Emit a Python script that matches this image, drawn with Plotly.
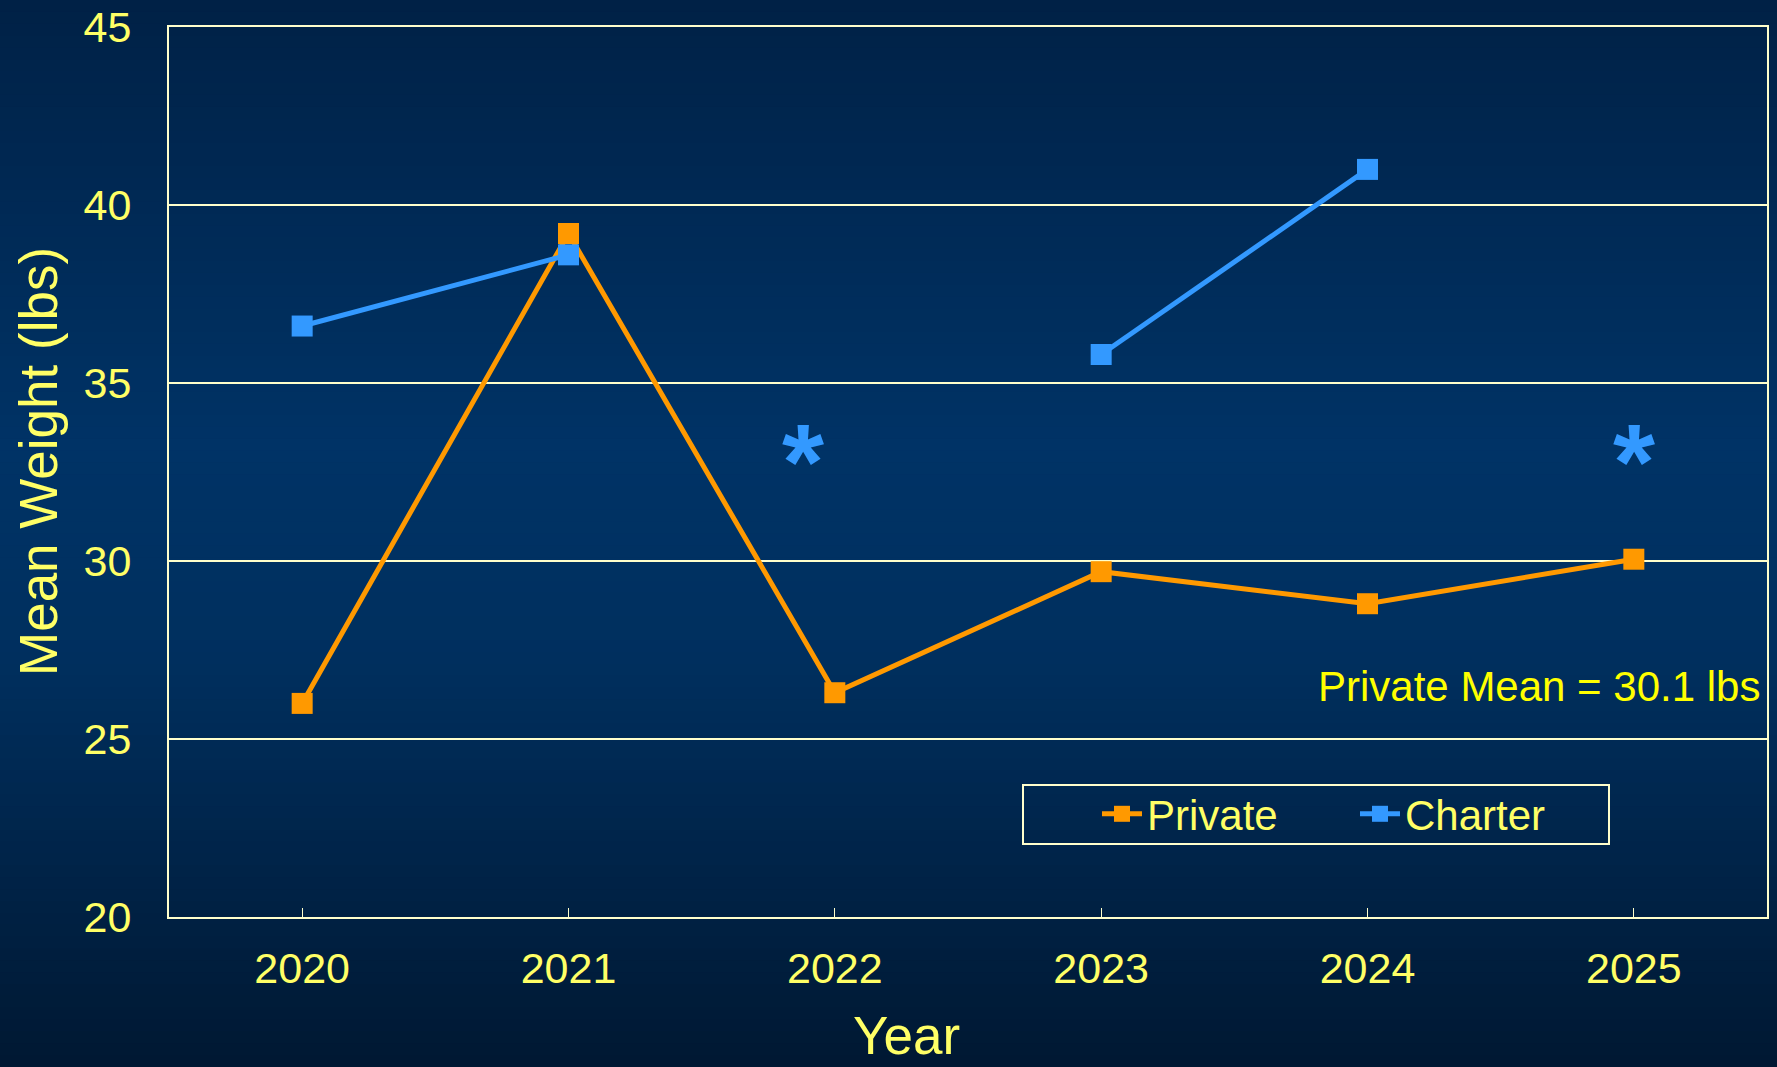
import plotly.graph_objects as go

years = [2020, 2021, 2022, 2023, 2024, 2025]
private = [26.0, 39.2, 26.3, 29.7, 28.8, 30.05]
charter = [36.6, 38.6, None, 35.8, 41.0, None]
star_years = [2021.88, 2025.0]
star_y = [33.2, 33.2]
mean_text = "Private Mean = 30.1 lbs"

W, H = 1777, 1067
ML, MR, MT, MB = 169, 10, 27, 150
PW, PH = W - ML - MR, H - MT - MB

def px_x(p):
    return (p - ML) / PW

def px_y(p):
    return (H - MB - p) / PH

YEL = "#ffff66"
CREAM = "#ffffcc"
ORANGE = "#ff9900"
BLUE = "#3399ff"
FONT = "Liberation Sans, Arial, sans-serif"

fig = go.Figure()
fig.add_trace(go.Scatter(x=years, y=private, name="Private", mode="lines+markers",
                         line=dict(color=ORANGE, width=5),
                         marker=dict(symbol="square", size=21, color=ORANGE)))
fig.add_trace(go.Scatter(x=years, y=charter, name="Charter", mode="lines+markers",
                         connectgaps=False,
                         line=dict(color=BLUE, width=5),
                         marker=dict(symbol="square", size=21, color=BLUE)))

# background gradient bands
stops = [(0.0, (0, 33, 70)), (0.42, (0, 51, 102)), (0.62, (0, 47, 94)), (1.0, (0, 24, 50))]
def col(t):
    for (t0, c0), (t1, c1) in zip(stops[:-1], stops[1:]):
        if t0 <= t <= t1:
            f = (t - t0) / (t1 - t0)
            return "rgb(%d,%d,%d)" % tuple(round(a + (b - a) * f) for a, b in zip(c0, c1))
    return "rgb(%d,%d,%d)" % stops[-1][1]

shapes = []
N = 90
for i in range(N):
    y0p = H * i / N
    y1p = H * (i + 1) / N + 1
    shapes.append(dict(type="rect", xref="paper", yref="paper", layer="below",
                       x0=px_x(-2), x1=px_x(W + 2), y0=px_y(y1p), y1=px_y(y0p - 1 if i == 0 else y0p),
                       line=dict(width=0), fillcolor=col((i + 0.5) / N)))
# legend box
shapes.append(dict(type="rect", xref="paper", yref="paper", layer="above",
                   x0=px_x(1023), x1=px_x(1609), y0=px_y(844), y1=px_y(785),
                   line=dict(color=CREAM, width=2), fillcolor="rgba(0,0,0,0)"))

annotations = []
for sx, sy in zip(star_years, star_y):
    annotations.append(dict(x=sx, y=sy, xref="x", yref="y", text="<b>*</b>", showarrow=False,
                            font=dict(family=FONT, size=108, color=BLUE), yshift=-14))
annotations.append(dict(x=px_x(1762), y=px_y(686), xref="paper", yref="paper", text=mean_text,
                        showarrow=False, xanchor="right", yanchor="middle",
                        font=dict(family=FONT, size=42, color="#ffff00")))
annotations.append(dict(x=px_x(906), y=px_y(1035), xref="paper", yref="paper", text="Year",
                        showarrow=False, xanchor="center", yanchor="middle",
                        font=dict(family=FONT, size=53, color=YEL)))
annotations.append(dict(x=px_x(38), y=px_y(462), xref="paper", yref="paper", text="Mean Weight (lbs)",
                        showarrow=False, xanchor="center", yanchor="middle", textangle=-90,
                        font=dict(family=FONT, size=53, color=YEL)))

fig.update_layout(
    width=W, height=H,
    margin=dict(l=ML, r=MR, t=MT, b=MB, autoexpand=False),
    paper_bgcolor="rgb(0,24,50)",
    plot_bgcolor="rgba(0,0,0,0)",
    shapes=shapes,
    annotations=annotations,
    showlegend=True,
    legend=dict(orientation="h", x=px_x(1097), y=px_y(814), xanchor="left", yanchor="middle",
                bgcolor="rgba(0,0,0,0)", borderwidth=0,
                font=dict(family=FONT, size=42, color=YEL),
                entrywidth=203, itemwidth=40),
    xaxis=dict(range=[2019.5, 2025.5], tickvals=years, ticktext=[str(y) for y in years],
               showgrid=False, zeroline=False, showline=True, mirror=True, automargin=False,
               linecolor=CREAM, linewidth=2,
               ticks="inside", ticklen=9, tickwidth=1, tickcolor=CREAM,
               ticklabelstandoff=12,
               tickfont=dict(family=FONT, size=43, color=YEL)),
    yaxis=dict(range=[20, 45], tickvals=[20, 25, 30, 35, 40, 45],
               showgrid=True, gridcolor=CREAM, gridwidth=2, zeroline=False, automargin=False,
               showline=True, mirror=True, linecolor=CREAM, linewidth=2,
               ticks="", ticklabelstandoff=27,
               tickfont=dict(family=FONT, size=43, color=YEL)),
)

fig.write_html("out.html", config={"displayModeBar": False},
               post_script="document.body.style.margin='0';document.body.style.overflow='hidden';")
